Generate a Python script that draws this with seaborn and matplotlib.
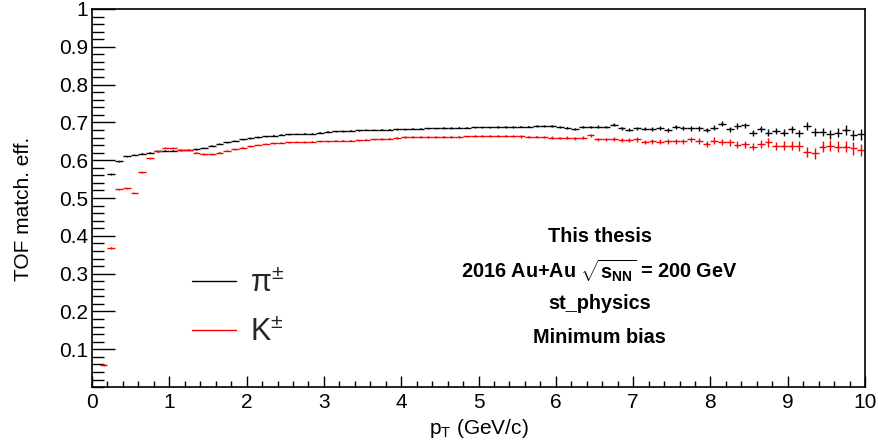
"""
TOF matching efficiency vs pT for pions and kaons (2016 Au+Au, 200 GeV).
"""

import numpy as np
import pandas as pd
import seaborn as sns
import matplotlib.pyplot as plt
from matplotlib.lines import Line2D
from matplotlib.ticker import MultipleLocator, FixedLocator

# histogram binning (0.1 GeV/c bins)
bin_width = 0.1
pt_kaon = np.round(np.arange(0.15, 10.0, bin_width), 2)
pt_pion = pt_kaon[1:]

eff_pion = [
    0.563, 0.597, 0.610, 0.614, 0.617, 0.620, 0.624, 0.625, 0.625, 0.626,
    0.627, 0.629, 0.632, 0.638, 0.643, 0.647, 0.651, 0.655, 0.658, 0.661,
    0.663, 0.665, 0.667, 0.668, 0.669, 0.670, 0.670, 0.673, 0.675, 0.676,
    0.677, 0.678, 0.679, 0.680, 0.680, 0.681, 0.681, 0.682, 0.682, 0.683,
    0.683, 0.684, 0.684, 0.685, 0.685, 0.686, 0.686, 0.687, 0.687, 0.687,
    0.688, 0.688, 0.688, 0.689, 0.689, 0.690, 0.690, 0.691, 0.687, 0.686,
    0.682, 0.688, 0.688, 0.689, 0.688, 0.694, 0.685, 0.680, 0.684, 0.683,
    0.683, 0.685, 0.680, 0.688, 0.686, 0.684, 0.684, 0.680, 0.686, 0.697,
    0.682, 0.690, 0.692, 0.673, 0.683, 0.673, 0.677, 0.673, 0.682, 0.671,
    0.690, 0.674, 0.674, 0.668, 0.673, 0.680, 0.666, 0.668,
]
err_pion = [
    0.001, 0.001, 0.001, 0.001, 0.001, 0.001, 0.001, 0.001, 0.001, 0.001,
    0.001, 0.001, 0.001, 0.001, 0.001, 0.001, 0.001, 0.001, 0.001, 0.001,
    0.001, 0.001, 0.001, 0.001, 0.001, 0.001, 0.001, 0.001, 0.001, 0.001,
    0.0012, 0.0012, 0.0012, 0.0012, 0.0012, 0.0013, 0.0013, 0.0013, 0.0014, 0.0014,
    0.0015, 0.0015, 0.0015, 0.0016, 0.0016, 0.0017, 0.0017, 0.0018, 0.0018, 0.0019,
    0.002, 0.002, 0.0021, 0.0022, 0.0022, 0.0023, 0.0024, 0.0025, 0.0026, 0.0027,
    0.003, 0.003, 0.0032, 0.0033, 0.0035, 0.0036, 0.0038, 0.004, 0.0042, 0.0044,
    0.0046, 0.0048, 0.005, 0.0052, 0.0054, 0.0056, 0.006, 0.0062, 0.0065, 0.0068,
    0.007, 0.0073, 0.0076, 0.008, 0.0083, 0.0086, 0.009, 0.0093, 0.0096, 0.010,
    0.0104, 0.0108, 0.011, 0.0115, 0.012, 0.0125, 0.013, 0.0135,
]

eff_kaon = [
    0.059, 0.368, 0.523, 0.526, 0.513, 0.568, 0.605, 0.624, 0.632, 0.632,
    0.627, 0.627, 0.620, 0.616, 0.616, 0.620, 0.625, 0.629, 0.633, 0.637,
    0.640, 0.643, 0.645, 0.646, 0.647, 0.648, 0.648, 0.649, 0.650, 0.650,
    0.651, 0.652, 0.652, 0.653, 0.654, 0.655, 0.656, 0.657, 0.659, 0.661,
    0.661, 0.661, 0.661, 0.661, 0.662, 0.662, 0.662, 0.663, 0.663, 0.664,
    0.664, 0.664, 0.664, 0.663, 0.663, 0.662, 0.662, 0.661, 0.660, 0.659,
    0.659, 0.658, 0.659, 0.666, 0.655, 0.655, 0.656, 0.653, 0.654, 0.655,
    0.648, 0.650, 0.649, 0.650, 0.650, 0.650, 0.655, 0.650, 0.643, 0.652,
    0.648, 0.647, 0.641, 0.642, 0.636, 0.642, 0.647, 0.638, 0.638, 0.638,
    0.638, 0.622, 0.618, 0.636, 0.638, 0.636, 0.636, 0.631, 0.627,
]
err_kaon = [
    0.002, 0.002, 0.001, 0.001, 0.001, 0.001, 0.001, 0.001, 0.001, 0.001,
    0.001, 0.001, 0.001, 0.001, 0.001, 0.001, 0.001, 0.001, 0.001, 0.001,
    0.001, 0.001, 0.001, 0.001, 0.001, 0.001, 0.0012, 0.0012, 0.0012, 0.0013,
    0.0013, 0.0014, 0.0014, 0.0015, 0.0015, 0.0016, 0.0016, 0.0017, 0.0017, 0.0018,
    0.0018, 0.0019, 0.002, 0.002, 0.0021, 0.0022, 0.0022, 0.0023, 0.0024, 0.0025,
    0.0026, 0.0027, 0.0028, 0.0029, 0.003, 0.0031, 0.0032, 0.0033, 0.0035, 0.0036,
    0.0038, 0.004, 0.0042, 0.0044, 0.0046, 0.0048, 0.005, 0.0052, 0.0054, 0.0056,
    0.0058, 0.006, 0.0063, 0.0066, 0.0069, 0.0072, 0.0075, 0.0078, 0.0081, 0.0084,
    0.0087, 0.009, 0.0094, 0.0098, 0.010, 0.0105, 0.011, 0.0114, 0.0118, 0.0122,
    0.0126, 0.013, 0.0135, 0.014, 0.0145, 0.015, 0.0155, 0.016, 0.0165,
]

x_ticks = list(range(0, 11))
y_ticks = [0.1, 0.2, 0.3, 0.4, 0.5, 0.6, 0.7, 0.8, 0.9, 1.0]
y_tick_labels = ["0.1", "0.2", "0.3", "0.4", "0.5", "0.6", "0.7", "0.8", "0.9", "1"]

info_lines = [
    "This thesis",
    r"2016 Au+Au $\sqrt{\mathbf{s}_{\mathbf{NN}}}$ = 200 GeV",
    "st_physics",
    "Minimum bias",
]


def main():
    sns.set_theme(style="ticks")
    plt.rcParams["font.family"] = ["Liberation Sans", "DejaVu Sans"]
    plt.rcParams["mathtext.fontset"] = "custom"
    plt.rcParams["mathtext.rm"] = "Liberation Sans"
    plt.rcParams["mathtext.it"] = "Liberation Sans:italic"
    plt.rcParams["mathtext.bf"] = "Liberation Sans:bold"

    df = pd.concat([
        pd.DataFrame({"pt": pt_pion, "eff": eff_pion, "err": err_pion, "species": "pion"}),
        pd.DataFrame({"pt": pt_kaon, "eff": eff_kaon, "err": err_kaon, "species": "kaon"}),
    ])
    colors = {"pion": "black", "kaon": "#ff0000"}

    fig = plt.figure(figsize=(8.79, 4.48), dpi=100)
    ax = fig.add_axes([0.1047, 0.136, 0.8794, 0.844])

    for sp, sub in df.groupby("species", sort=False):
        ax.errorbar(sub["pt"], sub["eff"], xerr=bin_width / 2, yerr=sub["err"],
                    fmt="none", ecolor=colors[sp], elinewidth=1.0, capsize=0)
    sns.scatterplot(data=df, x="pt", y="eff", hue="species", palette=colors,
                    marker=".", s=3, linewidth=0, legend=False, ax=ax)

    ax.set_xlim(0, 10)
    ax.set_ylim(0, 1)
    ax.xaxis.set_major_locator(FixedLocator(x_ticks))
    ax.xaxis.set_minor_locator(MultipleLocator(0.2))
    ax.yaxis.set_major_locator(FixedLocator(y_ticks))
    ax.set_yticklabels(y_tick_labels)
    ax.yaxis.set_minor_locator(MultipleLocator(0.02))
    ax.tick_params(axis="both", which="both", direction="in", colors="black",
                   labelsize=15, width=1.0, bottom=True, left=True,
                   top=False, right=False)
    ax.tick_params(axis="x", which="major", length=8, pad=4)
    ax.tick_params(axis="x", which="minor", length=4)
    ax.tick_params(axis="y", which="major", length=16.5, pad=3)
    ax.tick_params(axis="y", which="minor", length=8.5)
    for s in ax.spines.values():
        s.set_color("black")
        s.set_linewidth(1.2)

    ax.set_xlabel(r"p$_{\mathrm{T}}$ (GeV/c)", fontsize=15, color="black")
    ax.set_ylabel("TOF match. eff.", fontsize=15, color="black")
    ax.xaxis.set_label_coords(0.5, -0.078)
    ax.yaxis.set_label_coords(-0.077, 0.47)

    # info text block
    for i, line in enumerate(info_lines):
        ax.text(0.6565, 0.398 - i * 0.089, line, transform=ax.transAxes,
                ha="center", va="center", fontsize=14.3, fontweight="bold",
                color="black")

    handles = [Line2D([], [], color="black", lw=1.0),
               Line2D([], [], color="#ff0000", lw=1.0)]
    ax.legend(handles, [r"π$^{\pm}$", r"K$^{\pm}$"], loc="center left",
              bbox_to_anchor=(0.129, 0.208), frameon=False, fontsize=22,
              handlelength=1.45, handletextpad=0.45, labelspacing=0.62,
              borderpad=0, borderaxespad=0)

    fig.savefig("out.png", dpi=100)


if __name__ == "__main__":
    main()
